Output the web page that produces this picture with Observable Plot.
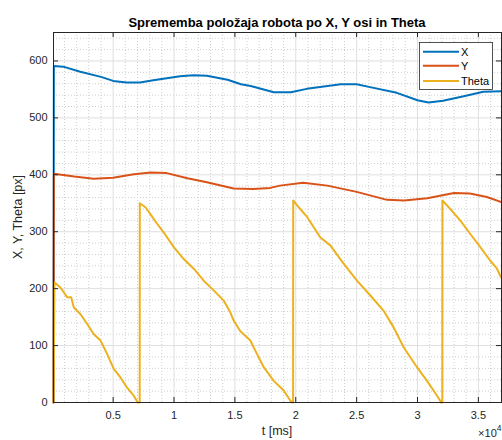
<!DOCTYPE html>
<html><head><meta charset="utf-8">
<script src="https://cdn.jsdelivr.net/npm/d3@7"></script>
<script src="https://cdn.jsdelivr.net/npm/@observablehq/plot@0.6"></script>
<style>
body{margin:0;background:#fff}
svg{font-family:"Liberation Sans", Arial, Helvetica, sans-serif}
</style>
</head><body><div id="chart"></div>
<script>
// ---- data ----
const seriesNames = ["X", "Y", "Theta"];
const seriesColors = ["#0072BD", "#D95319", "#EDB120"];

const xT = [100, 130, 900, 2300, 4000, 5000, 6100, 7200, 8300, 10500, 11600, 12700, 14400, 15500, 16300, 18200, 19600, 20900, 23700, 25000, 26100, 28300, 30000, 30900, 32100, 33800, 35400, 36900];
const xV = [0, 591, 590, 581, 572, 565, 562, 562, 566, 573, 575, 574, 567, 559, 556, 545, 545, 551, 559, 559, 554, 544, 531, 527, 530, 538, 546, 547];

const yT = [100, 130, 1800, 3400, 5000, 6700, 8100, 9400, 11100, 12700, 14900, 16500, 17900, 18700, 20600, 22600, 25000, 27500, 28900, 30800, 33000, 34300, 35700, 36900];
const yV = [0, 402, 397, 393, 395, 401, 404, 403, 394, 387, 376, 375, 377, 381, 386, 381, 370, 356, 355, 359, 368, 367, 361, 352];

const thT = [100, 180, 670, 1220, 1550, 1770, 2320, 2870, 3410, 3960, 4510, 5050, 5600, 6150, 6690, 7020, 7180, 7190, 7650, 8060, 8610, 9150, 9980, 10800, 11620, 12440, 13260, 14080, 14630, 14900, 15450, 16270, 16820, 17370, 18190, 19010, 19560, 19700, 19780, 19790, 20240, 20930, 22020, 22840, 23930, 25030, 26130, 27220, 28040, 28860, 29960, 30780, 31320, 31870, 31930, 32040, 32050, 32690, 33510, 34340, 35160, 35980, 36530, 36860];
const thV = [0, 211, 202, 185, 185, 167, 155, 138, 120, 109, 85, 59, 44, 26, 12, 0, 0, 350, 343, 331, 314, 299, 273, 252, 235, 214, 197, 179, 158, 144, 125, 109, 85, 62, 38, 21, 3, 0, 0, 355, 343, 326, 290, 276, 244, 214, 188, 161, 132, 97, 62, 38, 21, 3, 0, 0, 355, 340, 320, 296, 273, 249, 235, 220];

const xTicks = [5000, 10000, 15000, 20000, 25000, 30000, 35000];
const yTicks = [0, 100, 200, 300, 400, 500, 600];
const xDomain = [100, 36900];
const yDomain = [0, 650];
const titleText = "Sprememba položaja robota po X, Y osi in Theta";
const xLabel = "t [ms]";
const yLabel = "X, Y, Theta [px]";

// ---- build tables ----
const toRows = (T, V) => T.map((t, i) => ({t, v: V[i]}));
const rowsX = toRows(xT, xV), rowsY = toRows(yT, yV), rowsTh = toRows(thT, thV);
const xMinor = d3.range(1000, 37000, 1000).filter(t => t % 5000 !== 0);
const yMinor = d3.range(20, 650, 20).filter(v => v % 100 !== 0);

const W = 502, H = 440;
const axisColor = "#262626";
const plot = Plot.plot({
  width: W, height: H,
  marginLeft: 53, marginRight: 1, marginTop: 32, marginBottom: 38,
  style: {fontSize: "11px", color: axisColor, background: "#fff"},
  x: {domain: xDomain, ticks: xTicks, tickFormat: d => String(d / 1e4), tickSize: 0, tickPadding: 9, label: null},
  y: {domain: yDomain, ticks: yTicks, tickSize: 0, tickPadding: 6, label: null},
  marks: [
    Plot.ruleX(xMinor, {stroke: "#cfcfcf", strokeDasharray: "1,2"}),
    Plot.ruleY(yMinor, {stroke: "#cfcfcf", strokeDasharray: "1,2"}),
    Plot.ruleX(xTicks, {stroke: "#dfdfdf"}),
    Plot.ruleY(yTicks, {stroke: "#dfdfdf"}),
    Plot.line(rowsX, {x: "t", y: "v", stroke: seriesColors[0], strokeWidth: 2}),
    Plot.line(rowsY, {x: "t", y: "v", stroke: seriesColors[1], strokeWidth: 2}),
    Plot.line(rowsTh, {x: "t", y: "v", stroke: seriesColors[2], strokeWidth: 2}),
    Plot.frame({stroke: axisColor}),
    Plot.ruleX(xTicks, {y1: 0, y2: 0, insetTop: -5, stroke: axisColor}),
    Plot.ruleX(xTicks, {y1: 650, y2: 650, insetBottom: -5, stroke: axisColor}),
    Plot.ruleY(yTicks, {x1: 100, x2: 100, insetRight: -5, stroke: axisColor}),
    Plot.ruleY(yTicks, {x1: 36900, x2: 36900, insetLeft: -5, stroke: axisColor})
  ]
});

const svg = d3.select(plot);
const cx = (53 + W - 1) / 2;
svg.append("text").attr("x", cx).attr("y", 26.5).attr("text-anchor", "middle")
  .attr("font-size", 13).attr("font-weight", "bold").attr("fill", "#000").text(titleText);
svg.append("text").attr("x", cx).attr("y", 434.5).attr("text-anchor", "middle")
  .attr("font-size", 12.5).attr("fill", axisColor).text(xLabel);
svg.append("text").attr("transform", `translate(22,217) rotate(-90)`).attr("text-anchor", "middle")
  .attr("font-size", 12.5).attr("fill", axisColor).text(yLabel);
const ex = svg.append("text").attr("x", 501.5).attr("y", 437).attr("text-anchor", "end")
  .attr("font-size", 11).attr("fill", axisColor);
ex.append("tspan").text("\u00d710");
ex.append("tspan").attr("dy", -6).attr("font-size", 8.5).text("4");

// legend
const lg = svg.append("g");
lg.append("rect").attr("x", 419.5).attr("y", 42.5).attr("width", 73).attr("height", 47)
  .attr("fill", "#fff").attr("stroke", axisColor).attr("stroke-width", 0.8);
const rowsYpos = [51.7, 65.7, 81];
seriesNames.forEach((n, i) => {
  lg.append("line").attr("x1", 423).attr("x2", 459).attr("y1", rowsYpos[i]).attr("y2", rowsYpos[i])
    .attr("stroke", seriesColors[i]).attr("stroke-width", 2);
  lg.append("text").attr("x", 461).attr("y", rowsYpos[i]).attr("dy", "0.35em")
    .attr("text-anchor", "start")
    .attr("font-size", 11).attr("fill", "#000").text(n);
});

document.getElementById("chart").appendChild(plot);
</script>
</body></html>
